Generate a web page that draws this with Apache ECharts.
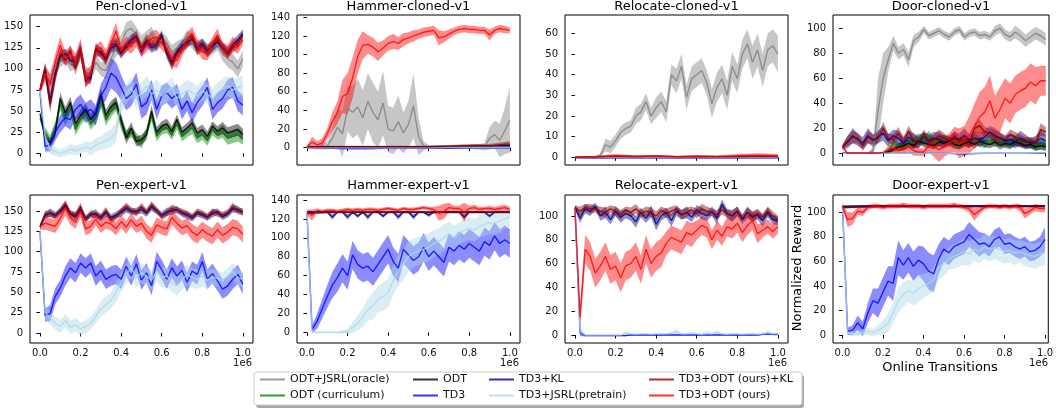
<!DOCTYPE html>
<html><head><meta charset="utf-8">
<script src="https://cdn.jsdelivr.net/npm/echarts@6.0.0/dist/echarts.min.js"></script>
<style>html,body{margin:0;padding:0;background:#fff}#c{width:1056px;height:412px}</style>
</head><body><div id="c"></div>
<script>
// ---------- tick labels / categories ----------
const xTicks = [0, 200000, 400000, 600000, 800000, 1000000];
const yTicksPen = [0, 25, 50, 75, 100, 125, 150];
const yTicksHammer = [0, 20, 40, 60, 80, 100, 120, 140];
const yTicksRelCloned = [0, 10, 20, 30, 40, 50, 60];
const yTicks100 = [0, 20, 40, 60, 80, 100];
const titles = ['Pen-cloned-v1','Hammer-cloned-v1','Relocate-cloned-v1','Door-cloned-v1','Pen-expert-v1','Hammer-expert-v1','Relocate-expert-v1','Door-expert-v1'];
const seriesKeys = ['oracle','curric','odt','td3','td3kl','jsrl','oursKl','ours'];
const seriesNames = ['ODT+JSRL(oracle)','ODT (curriculum)','ODT','TD3','TD3+KL','TD3+JSRL(pretrain)','TD3+ODT (ours)+KL','TD3+ODT (ours)'];

// ---------- Pen-cloned ----------
const penCl_oracle = [75,95,85,100,110,115,105,108,118,95,92,108,100,98,112,125,130,145,148,140,130,135,142,128,135,130,120,125,128,138,132,125,128,122,125,130,120,112,108,100,112];
const penCl_oracleSd = [5,8,8,8,8,8,8,8,8,8,8,8,8,10,10,10,10,10,10,10,10,10,8,8,8,8,8,8,8,8,8,8,8,8,8,8,10,10,10,10,10];
const penCl_curric = [42,25,15,30,58,40,55,28,40,48,35,42,62,40,50,58,35,22,25,18,12,25,45,20,28,30,22,35,20,25,30,18,22,15,28,22,26,18,20,22,18];
const penCl_curricSd = [4,6,6,7,8,7,7,7,7,7,7,7,8,7,7,8,7,6,6,6,6,6,7,6,6,6,6,7,6,6,7,6,6,6,7,6,8,8,8,8,8];
const penCl_odt = [47,20,12,24,65,48,60,35,45,52,40,48,70,45,55,60,40,18,30,14,16,22,50,25,32,35,26,40,25,30,36,24,28,20,32,26,30,24,26,28,22];
const penCl_odtSd = [3,5,5,6,7,7,7,7,7,7,7,7,7,7,7,7,7,7,7,6,6,6,7,6,6,6,6,6,6,6,6,6,6,6,6,6,7,7,7,7,7];
const penCl_td3 = [72,8,10,25,35,42,40,52,58,48,52,45,68,78,95,90,78,65,70,82,55,60,75,52,68,72,65,70,52,62,48,60,68,78,52,60,65,75,78,62,57];
const penCl_td3Sd = [5,6,8,10,10,10,12,12,12,12,12,12,14,15,18,18,15,14,14,14,14,14,12,12,12,12,12,12,12,12,12,12,12,12,12,12,12,12,12,12,12];
const penCl_td3kl = [75,98,62,95,115,118,110,108,125,90,88,122,120,112,125,128,118,128,135,138,120,132,125,128,140,118,108,120,128,132,135,125,130,122,126,132,124,120,128,134,142];
const penCl_td3klSd = [4,8,10,8,7,6,6,7,7,7,6,6,6,6,6,7,6,6,6,6,6,6,6,6,6,6,7,6,6,6,6,6,6,6,6,6,6,6,6,6,5];
const penCl_jsrl = [75,20,5,2,0,2,5,3,5,8,5,10,12,15,18,25,60,70,78,65,72,80,70,75,68,72,78,65,70,75,72,68,74,70,65,72,76,80,75,78,80];
const penCl_jsrlSd = [5,8,6,5,5,5,6,6,6,6,8,8,8,10,10,12,12,12,12,12,12,12,12,12,12,12,12,12,12,12,12,12,12,12,12,12,12,12,12,12,12];
const penCl_oursKl = [75,100,58,90,118,110,122,100,120,85,92,125,118,110,128,130,120,125,132,140,125,135,128,130,138,120,105,118,125,130,138,122,128,120,128,135,126,118,125,130,140];
const penCl_oursKlSd = [4,8,10,8,7,6,6,7,7,7,6,6,6,6,6,7,6,6,6,6,6,6,6,6,6,6,7,6,6,6,6,6,6,6,6,6,6,6,6,6,5];
const penCl_ours = [75,95,82,108,128,112,118,108,126,88,95,120,125,115,130,145,122,130,126,134,122,128,136,138,130,125,112,110,122,135,142,128,120,118,130,140,124,120,130,126,134];
const penCl_oursSd = [5,10,12,10,10,9,9,10,10,10,9,8,8,8,9,10,8,8,8,8,8,8,9,8,8,8,9,9,8,8,8,8,9,8,8,8,8,8,8,8,6];

// ---------- Hammer-cloned ----------
const hamCl_oracle = [0,0,0,1,2,10,22,15,42,38,44,32,50,38,30,48,20,18,28,16,25,45,12,2,1,1,1,1,1,1,1,1,1,1,1,1,10,14,8,18,30];
const hamCl_oracleSd = [1,1,2,3,4,10,20,25,25,28,30,30,30,32,30,35,25,25,28,22,25,35,20,5,2,2,2,2,2,2,2,2,2,3,3,4,12,15,18,25,35];
const hamCl_curric = [1,1,1,1,1,1,1,1,1,1,1];
const hamCl_curricSd = [0.5,0.8,0.8,0.8,0.8,0.8,0.8,0.8,0.8,0.8,0.8];
const hamCl_odt = [1,1,1,1,1,1,1,1,1.5,1.5,2];
const hamCl_odtSd = [0.5,0.8,0.8,0.8,0.8,0.8,0.8,0.8,1,1,1.5];
const hamCl_td3 = [0,-0.5,-1,-1,-0.5,-0.5,-0.5,-0.5,0,0,0];
const hamCl_td3Sd = [0.5,0.8,1,1,0.8,0.8,0.8,0.8,0.5,0.5,0.5];
const hamCl_td3kl = [0.5,1,1,1,1,1,1,1,1,1,1.5];
const hamCl_td3klSd = [0.5,0.8,0.8,0.8,0.8,0.8,0.8,0.8,0.8,1,1];
const hamCl_jsrl = [0,0,0,0,0,0,0,0.5,0.5,0.5,0.5];
const hamCl_jsrlSd = [0.5,0.5,0.5,0.5,0.5,0.5,0.5,1,1,1,1];
const hamCl_oursKl = [1,1,1,1,1,1,1,1.5,2,2,4];
const hamCl_oursKlSd = [0.5,1,1,1,1,1,1,1.5,2,2,3];
const hamCl_ours = [1,6,3,5,15,28,38,55,58,75,98,110,111,108,103,107,112,114,112,116,118,120,122,124,125,126,118,119,122,125,127,128,127,127,126,126,121,126,128,127,126];
const hamCl_oursSd = [1,6,4,5,6,10,12,18,22,22,18,15,10,10,10,8,8,8,7,7,6,6,5,5,5,5,8,6,5,4,4,4,4,4,4,4,6,4,4,4,3];

// ---------- Relocate-cloned ----------
const relCl_oracle = [0,0,0,0,0,1,6,5,8,12,14,15,20,22,27,20,24,27,22,40,37,44,29,38,40,42,36,26,34,38,30,44,38,50,55,46,52,42,52,54,50];
const relCl_oracleSd = [0.5,0.5,0.5,0.5,0.5,1,3,3,3,3,3,3,4,4,4,4,5,5,5,5,6,6,6,6,6,6,6,7,7,7,7,7,7,7,7,8,8,8,8,8,9];
const relCl_curric = [0,0,0,0,0,0,0,0,0,0,0];
const relCl_curricSd = [0.1,0.1,0.1,0.1,0.1,0.1,0.1,0.1,0.1,0.1,0.1];
const relCl_odt = [0,0,0,0,0,0,0,0,0,0,0];
const relCl_odtSd = [0.1,0.1,0.1,0.1,0.1,0.1,0.1,0.1,0.1,0.1,0.1];
const relCl_td3 = [-0.2,-0.3,-0.3,-0.3,-0.3,-0.3,-0.3,-0.3,-0.3,-0.3,-0.3];
const relCl_td3Sd = [0.1,0.1,0.1,0.1,0.1,0.1,0.1,0.1,0.1,0.1,0.1];
const relCl_td3kl = [0,0.1,0.2,0.1,0.3,0.1,0.2,0.2,0.1,0.2,0.1];
const relCl_td3klSd = [0.1,0.2,0.2,0.2,0.3,0.2,0.2,0.2,0.2,0.2,0.2];
const relCl_jsrl = [-0.1,-0.1,-0.1,-0.1,-0.1,-0.1,-0.1,-0.1,-0.1,-0.1,-0.1];
const relCl_jsrlSd = [0.1,0.1,0.1,0.1,0.1,0.1,0.1,0.1,0.1,0.1,0.1];
const relCl_oursKl = [0,0.2,0.5,0.3,0.5,0.3,0.4,0.3,0.3,0.5,0.4];
const relCl_oursKlSd = [0.2,0.3,0.5,0.3,0.5,0.3,0.4,0.3,0.3,0.5,0.4];
const relCl_ours = [0,0.3,0.8,0.5,0.6,0.3,0.5,0.4,0.8,1,0.8];
const relCl_oursSd = [0.3,0.5,0.8,0.5,0.6,0.5,0.5,0.5,0.8,1,0.8];

// ---------- Door-cloned ----------
const doorCl_oracle = [0,0,0,0,0,0,2,35,60,75,88,80,83,75,90,93,99,94,96,98,95,93,97,99,93,96,97,94,95,93,98,100,95,93,97,94,90,93,96,94,91];
const doorCl_oracleSd = [0,0,0,0,0,0.5,3,25,20,10,6,5,5,6,5,4,3,3,3,3,3,3,3,3,3,3,3,3,3,3,4,4,4,4,5,5,5,5,5,5,5];
const doorCl_curric = [0,0,0,0,0,0,0,0,0,2,8,6,5,9,8,12,10,14,8,10,11,9,8,7,10,8,12,9,8,11,9,10,8,7,10,9,8,8,6,7,6];
const doorCl_curricSd = [0.3,0.3,0.3,0.3,0.3,0.3,0.3,0.3,0.5,1,3,3,3,4,4,4,4,4,4,4,4,4,4,4,4,4,4,4,4,4,4,4,4,4,4,4,4,4,4,4,4];
const doorCl_odt = [0,0,0,0,0,0,0,0,0,1,3,5,6,8,6,10,8,7,6,9,8,10,7,6,8,9,7,10,8,7,9,6,8,7,9,8,6,7,5,6,5];
const doorCl_odtSd = [0.3,0.3,0.3,0.3,0.3,0.3,0.3,0.3,0.5,1,2,3,3,3,3,3,3,3,3,3,3,3,3,3,3,3,3,3,3,3,3,3,3,3,3,3,3,3,3,3,3];
const doorCl_td3 = [0,0,0,0,0,0,-0.5,0,0,0,0];
const doorCl_td3Sd = [0.3,0.3,0.3,0.3,0.3,0.3,0.5,0.3,0.3,0.3,0.5];
const doorCl_td3kl = [5,9,14,11,8,14,10,13,16,10,14,12,8,13,10,9,13,10,12,11,9,10,12,11,14,10,12,11,13,17,14,12,10,11,9,12,10,8,9,12,10];
const doorCl_td3klSd = [2,5,6,5,5,6,5,5,6,5,5,6,5,5,6,5,4,5,5,6,5,4,5,5,6,5,5,6,5,5,6,5,4,5,5,6,5,4,5,6,5];
const doorCl_jsrl = [0,0,0,0,0,0,0,0,0,0,0.3];
const doorCl_jsrlSd = [0.3,0.3,0.3,0.3,0.3,0.3,0.3,0.3,0.3,0.3,0.3];
const doorCl_oursKl = [5,10,13,12,6,13,11,12,20,12,11,16,9,18,10,8,16,9,11,14,12,9,14,9,11,8,20,22,17,16,13,12,11,15,13,10,9,10,8,19,17];
const doorCl_oursKlSd = [2,4,5,4,4,5,4,4,5,4,4,5,4,4,5,4,3,4,4,5,4,3,4,4,5,4,4,5,4,4,5,4,3,4,4,5,4,3,4,5,4];
const doorCl_ours = [5,0,0,0,0,0,0,0,0.5,3,4,2,3,5,2,1,1,6,5,3,5,8,11,8,10,15,22,29,33,42,28,35,44,40,47,50,52,57,54,58,58];
const doorCl_oursSd = [2,0.5,0.5,0.5,0.5,0.5,0.5,0.5,1,3,3,3,3,4,4,3,3,5,8,10,8,8,10,12,12,15,18,20,20,20,18,18,16,16,15,15,15,15,15,12,12];

// ---------- Pen-expert ----------
const penEx_td3 = [125,22,24,45,55,70,80,74,86,80,86,70,77,66,70,72,66,82,70,85,65,74,58,88,78,66,80,70,77,62,76,72,88,66,73,64,54,58,66,72,60];
const penEx_td3Sd = [5,8,10,10,10,12,12,12,12,12,12,12,12,12,12,12,12,12,12,12,12,12,12,12,12,12,12,12,12,12,12,12,12,12,12,12,12,12,12,12,12];
const penEx_td3kl = [130,144,148,145,149,157,146,143,152,141,145,147,141,148,142,145,148,153,149,150,152,147,155,150,145,149,150,152,147,145,141,147,145,142,147,149,143,146,153,152,148];
const penEx_td3klSd = [2,4,5,4,4,5,4,5,5,4,4,5,4,5,4,4,5,5,4,4,5,4,5,4,4,5,5,4,4,5,4,4,4,4,5,4,4,4,5,4,4];
const penEx_jsrl = [125,25,18,12,8,15,7,10,5,8,12,20,30,35,40,50,62,72,80,68,74,70,65,76,68,70,62,58,65,72,68,66,70,65,69,67,64,70,76,68,66];
const penEx_jsrlSd = [5,8,8,8,8,8,8,8,8,8,8,8,10,10,10,12,12,12,12,12,12,12,12,12,12,12,12,12,12,12,12,12,12,12,10,10,10,10,10,10,10];
const penEx_oursKl = [131,146,147,143,151,158,147,145,155,139,147,145,143,150,139,143,150,155,151,147,155,149,157,151,143,147,153,151,149,146,143,149,147,143,149,147,145,148,155,150,149];
const penEx_oursKlSd = [2,4,4,4,4,5,4,4,5,4,4,4,4,5,4,4,4,5,4,4,5,4,5,4,4,4,5,4,4,4,4,4,4,4,4,4,4,4,5,4,4];
const penEx_ours = [131,135,133,131,141,153,141,136,150,128,131,140,131,136,134,128,137,130,139,131,135,125,120,133,130,128,142,135,129,132,124,120,127,122,119,127,120,124,130,128,121];
const penEx_oursSd = [4,8,8,8,8,9,8,8,8,8,8,8,8,8,8,8,8,8,8,8,9,9,9,9,9,9,9,9,9,9,10,10,10,10,10,10,10,10,10,10,10];

// ---------- Hammer-expert ----------
const hamEx_odt = [127,127,127,127,127,127,127,127,127,127,127];
const hamEx_odtSd = [0.5,0.5,0.5,0.5,0.5,0.5,0.5,0.5,0.5,0.5,0.5];
const hamEx_td3 = [127,3,12,25,38,50,58,68,60,82,72,68,70,64,72,80,88,75,68,88,82,76,80,90,80,86,80,74,90,86,92,88,94,90,86,96,92,102,94,98,94];
const hamEx_td3Sd = [3,4,8,10,12,14,15,15,15,15,15,15,15,15,15,15,15,15,15,15,15,15,15,15,15,15,15,15,15,15,15,15,15,15,15,15,15,15,15,15,15];
const hamEx_td3kl = [127,127,127,127,127,122,127,127,122,127,123,127,122,127,127,123,127,127,122,127,127,122,127,127,124,127,127,127,127,127,127,122,127,127,127,127,123,127,127,127,127];
const hamEx_td3klSd = [1,1,1,1,1,3,1,1,3,1,2,1,3,1,1,2,1,1,3,1,1,3,1,1,2,1,1,1,1,1,1,3,1,1,1,1,2,1,1,1,1];
const hamEx_jsrl = [127,0,0,0,0,0,0,0.5,1,5,10,16,24,28,35,38,42,55,65,72,80,84,86,88,90,94,96,100,104,100,104,108,110,108,112,114,116,115,118,120,122];
const hamEx_jsrlSd = [3,1,1,1,1,1,1,2,3,6,8,10,12,14,14,15,15,16,16,16,16,15,15,15,15,14,14,14,13,13,12,12,12,12,12,12,12,12,12,10,10];
const hamEx_oursKl = [126,127,127,127,127,127,127,127,127,127,127];
const hamEx_oursKlSd = [1,1,1,1,1,1,1,1,1,1,1];
const hamEx_ours = [127,124,129,128,129,129,128,129,130,129,130,129,130,130,129,130,131,130,129,131,130,130,131,132,131,130,126,128,132,131,131,127,131,132,130,131,131,130,131,132,130];
const hamEx_oursSd = [3,6,2,2,2,2,2,2,2,2,2,2,2,2,2,2,2,2,2,2,2,2,2,2,2,3,8,8,5,3,3,10,3,3,3,2,3,3,3,3,3];

// ---------- Relocate-expert ----------
const relEx_td3 = [107,2,-0.5,-0.5,-0.5,-0.5,-0.5,-0.5,-0.5,-0.5,-0.5,0,0,0,0,0,0,0,0,0,0,0,0,0,0,0,0,0,0,0,0,0,0,0,0,0,0,0.5,1,0.5,0.5];
const relEx_td3Sd = [2,3,0.5,0.5,0.5,0.5,0.5,0.5,0.5,0.5,0.5,0.5,0.5,0.5,0.5,0.5,0.5,0.5,0.5,0.5,0.5,0.5,0.5,0.5,0.5,0.5,0.5,0.5,0.5,0.5,0.5,0.5,0.5,0.5,0.5,0.5,0.5,0.5,1,0.5,0.5];
const relEx_td3kl = [107,98,106,104,108,100,103,97,104,99,102,100,95,103,98,104,93,100,103,96,104,101,103,99,105,102,100,104,98,110,102,100,104,97,103,99,101,96,103,97,96];
const relEx_td3klSd = [2,4,4,4,3,4,5,4,4,5,4,4,5,4,4,5,5,4,4,5,4,4,5,4,4,5,4,4,5,4,4,5,4,4,5,4,4,5,4,4,4];
const relEx_jsrl = [107,3,0,0,0,0,0,0,0,0,1.5,1,0.5,1,1,0.5,1,1,1,1.5,2.5,1,1,1.5,1,0.5,1.5,1,2,1,0.5,1,1,0.5,1,1,0.5,1,2,1,1];
const relEx_jsrlSd = [2,3,0.5,0.5,0.5,0.5,0.5,0.5,0.5,0.5,1.5,1,1,1,1,1,1,1,1,1.5,2.5,1,1,1.5,1,1,1.5,1,2,1,1,1,1,1,1,1,1,1,2,1,1];
const relEx_oursKl = [107,104,107,106,106,104,103,106,104,101,105,103,106,102,104,103,100,105,102,104,106,101,103,105,102,106,104,103,101,105,102,100,104,98,103,100,102,99,104,100,97];
const relEx_oursKlSd = [2,4,3,4,3,4,4,3,4,4,3,4,4,3,4,4,4,3,4,4,3,4,4,3,4,4,4,3,4,4,3,4,4,3,4,4,4,3,4,4,3];
const relEx_ours = [107,15,72,66,52,58,66,55,58,48,58,60,66,55,72,60,66,69,77,82,80,78,86,84,88,92,90,80,88,83,91,89,94,86,92,96,85,88,91,87,91];
const relEx_oursSd = [3,10,12,12,12,12,12,12,12,12,12,12,12,12,12,12,12,12,10,10,10,10,10,10,8,8,8,8,8,8,8,8,8,8,8,8,8,6,6,6,6];

// ---------- Door-expert ----------
const doorEx_odt = [105,105,105,105,105,105,105,105,105,105,105];
const doorEx_odtSd = [0.5,0.5,0.5,0.5,0.5,0.5,0.5,0.5,0.5,0.5,0.5];
const doorEx_td3 = [105,3,4,10,5,18,28,26,35,44,42,63,57,63,56,61,58,52,50,62,70,67,72,74,76,82,78,74,75,72,78,80,74,75,72,70,72,68,69,72,78];
const doorEx_td3Sd = [3,3,4,6,6,8,10,12,12,12,14,14,12,12,12,12,14,15,15,12,10,10,10,10,10,10,10,10,8,8,8,8,8,8,8,8,8,8,8,8,10];
const doorEx_td3kl = [104,104.5,105,105,105,105,105,105,105,105,105];
const doorEx_td3klSd = [1,1,1,1,1,1,1,1,1,1,1];
const doorEx_jsrl = [105,2,1,1,2,3,2,4,6,10,18,28,33,36,34,38,40,42,45,55,58,62,64,66,68,66,70,68,72,70,71,70,68,69,67,68,66,65,64,66,67];
const doorEx_jsrlSd = [3,2,2,2,2,3,3,4,6,8,8,10,10,9,10,11,10,9,10,10,10,9,10,10,11,10,9,10,10,10,9,10,10,10,10,9,10,10,10,10,10];
const doorEx_oursKl = [104,105,105,105,105,105,105,105,105,105,105];
const doorEx_oursKlSd = [1,1,1,1,1,1,1,1,1,1,1];
const doorEx_ours = [105,94,95,101,100,104,105,105,104,105,105,105,106,105,105,105,104,105,105,105,105,105,106,105,104,103,98,101,104,105,105,104,105,104,105,104,99,101,104,103,103];
const doorEx_oursSd = [2,6,5,3,3,2,2,2,2,2,2,2,2,2,2,2,2,2,2,2,2,2,2,2,2,3,5,3,2,2,2,2,2,2,2,3,4,3,3,3,3];

// ---------- panels built from the arrays ----------
const panels = [
  {yTicks: yTicksPen, yMin: -13.85, yMax: 163.85, s: {oracle:[penCl_oracle,penCl_oracleSd], curric:[penCl_curric,penCl_curricSd], odt:[penCl_odt,penCl_odtSd], td3:[penCl_td3,penCl_td3Sd], td3kl:[penCl_td3kl,penCl_td3klSd], jsrl:[penCl_jsrl,penCl_jsrlSd], oursKl:[penCl_oursKl,penCl_oursKlSd], ours:[penCl_ours,penCl_oursSd]}},
  {yTicks: yTicksHammer, yMin: -18.6, yMax: 142.5, s: {oracle:[hamCl_oracle,hamCl_oracleSd], curric:[hamCl_curric,hamCl_curricSd], odt:[hamCl_odt,hamCl_odtSd], td3:[hamCl_td3,hamCl_td3Sd], td3kl:[hamCl_td3kl,hamCl_td3klSd], jsrl:[hamCl_jsrl,hamCl_jsrlSd], oursKl:[hamCl_oursKl,hamCl_oursKlSd], ours:[hamCl_ours,hamCl_oursSd]}},
  {yTicks: yTicksRelCloned, yMin: -3.7, yMax: 68.9, s: {oracle:[relCl_oracle,relCl_oracleSd], curric:[relCl_curric,relCl_curricSd], odt:[relCl_odt,relCl_odtSd], td3:[relCl_td3,relCl_td3Sd], td3kl:[relCl_td3kl,relCl_td3klSd], jsrl:[relCl_jsrl,relCl_jsrlSd], oursKl:[relCl_oursKl,relCl_oursKlSd], ours:[relCl_ours,relCl_oursSd]}},
  {yTicks: yTicks100, yMin: -9.4, yMax: 110.6, s: {oracle:[doorCl_oracle,doorCl_oracleSd], curric:[doorCl_curric,doorCl_curricSd], odt:[doorCl_odt,doorCl_odtSd], td3:[doorCl_td3,doorCl_td3Sd], td3kl:[doorCl_td3kl,doorCl_td3klSd], jsrl:[doorCl_jsrl,doorCl_jsrlSd], oursKl:[doorCl_oursKl,doorCl_oursKlSd], ours:[doorCl_ours,doorCl_oursSd]}},
  {yTicks: yTicksPen, yMin: -12.3, yMax: 169.6, s: {td3:[penEx_td3,penEx_td3Sd], td3kl:[penEx_td3kl,penEx_td3klSd], jsrl:[penEx_jsrl,penEx_jsrlSd], oursKl:[penEx_oursKl,penEx_oursKlSd], ours:[penEx_ours,penEx_oursSd]}},
  {yTicks: yTicksHammer, yMin: -11.2, yMax: 145.3, s: {odt:[hamEx_odt,hamEx_odtSd], td3:[hamEx_td3,hamEx_td3Sd], td3kl:[hamEx_td3kl,hamEx_td3klSd], jsrl:[hamEx_jsrl,hamEx_jsrlSd], oursKl:[hamEx_oursKl,hamEx_oursKlSd], ours:[hamEx_ours,hamEx_oursSd]}},
  {yTicks: yTicks100, yMin: -6.7, yMax: 117.6, s: {td3:[relEx_td3,relEx_td3Sd], td3kl:[relEx_td3kl,relEx_td3klSd], jsrl:[relEx_jsrl,relEx_jsrlSd], oursKl:[relEx_oursKl,relEx_oursKlSd], ours:[relEx_ours,relEx_oursSd]}},
  {yTicks: yTicks100, yMin: -6.5, yMax: 114.1, s: {odt:[doorEx_odt,doorEx_odtSd], td3:[doorEx_td3,doorEx_td3Sd], td3kl:[doorEx_td3kl,doorEx_td3klSd], jsrl:[doorEx_jsrl,doorEx_jsrlSd], oursKl:[doorEx_oursKl,doorEx_oursKlSd], ours:[doorEx_ours,doorEx_oursSd]}}
];

// ---------- styling / layout ----------
const FONT = 'DejaVu Sans';
const RGB = {oracle:[128,128,128], curric:[0,128,0], odt:[0,0,0], td3:[0,0,255], td3kl:[0,0,139], jsrl:[173,216,230], oursKl:[139,0,0], ours:[255,0,0]};
const COLS = [
  {left:30, width:223, xMin:-49200, xMax:1050000},
  {left:297, width:223, xMin:-49200, xMax:1050000},
  {left:565, width:223, xMin:-49200, xMax:1050000},
  {left:833, width:216, xMin:-47000, xMax:1016000}
];
const ROWS = [{top:15, height:150}, {top:195, height:148}];

const grid = [], xAxis = [], yAxis = [], series = [], graphic = [];
panels.forEach((p, k) => {
  const col = COLS[k % 4], row = ROWS[Math.floor(k / 4)];
  const bottomRow = k >= 4;
  grid.push({left: col.left, top: row.top, width: col.width, height: row.height, show: true, borderColor: '#000', borderWidth: 1, backgroundColor: 'transparent'});
  xAxis.push({type:'value', gridIndex:k, min:col.xMin, max:col.xMax,
    axisLine:{show:false}, splitLine:{show:false},
    axisTick:{show:true, inside:false, length:3.5, lineStyle:{color:'#000', width:1}, customValues:xTicks},
    axisLabel:{show:bottomRow, customValues:xTicks, formatter:v => (v/1e6).toFixed(1), fontSize:10, color:'#111', fontFamily:FONT, margin:5}
  });
  yAxis.push({type:'value', gridIndex:k, min:p.yMin, max:p.yMax,
    axisLine:{show:false}, splitLine:{show:false},
    axisTick:{show:true, inside:false, length:3.5, lineStyle:{color:'#000', width:1}, customValues:p.yTicks},
    axisLabel:{show:true, customValues:p.yTicks, formatter:v => String(v), fontSize:10, color:'#111', fontFamily:FONT, margin:7}
  });
  seriesKeys.forEach((key, j) => {
    const d = p.s[key]; if (!d) return;
    const mean = d[0], sd = d[1], n = mean.length;
    const xs = mean.map((_, i) => i * 1000000 / (n - 1));
    const c = RGB[key];
    const lo = mean.map((m, i) => m - sd[i]);
    const hi = mean.map((m, i) => m + sd[i]);
    series.push({type:'custom', xAxisIndex:k, yAxisIndex:k, data:[[0,0]], clip:true, silent:true, z:2,
      renderItem: (params, api) => {
        if (params.dataIndex !== 0) return null;
        const pts = [];
        for (let i = 0; i < n; i++) pts.push(api.coord([xs[i], hi[i]]));
        for (let i = n - 1; i >= 0; i--) pts.push(api.coord([xs[i], lo[i]]));
        return {type:'polygon', shape:{points:pts}, style:{fill:`rgba(${c[0]},${c[1]},${c[2]},0.45)`}};
      }});
    const lc = `rgba(${c[0]},${c[1]},${c[2]},0.8)`;
    series.push({type:'line', name:seriesNames[j], xAxisIndex:k, yAxisIndex:k, z:2,
      data: xs.map((x, i) => [x, mean[i]]), showSymbol:false, symbol:'none', clip:true, silent:true,
      color: lc, itemStyle:{color: lc}, lineStyle:{color: lc, width:1.4}});
  });
  // title
  graphic.push({type:'text', x: col.left + col.width/2, y: bottomRow ? 186 : 7, silent:true,
    style:{text: titles[k], fill:'#000', fontSize:13, fontFamily:FONT, align:'center', verticalAlign:'middle'}});
  if (bottomRow) {
    graphic.push({type:'text', x: col.left + col.width - 1, y: 363, silent:true,
      style:{text:'1e6', fill:'#111', fontSize:10, fontFamily:FONT, align:'right', verticalAlign:'middle'}});
  }
});

graphic.push({type:'text', x: 798, y: 268, rotation: Math.PI/2, silent:true,
  style:{text:'Normalized Reward', fill:'#000', fontSize:13, fontFamily:FONT, align:'center', verticalAlign:'middle'}});
graphic.push({type:'text', x: 940, y: 368, silent:true,
  style:{text:'Online Transitions', fill:'#000', fontSize:13, fontFamily:FONT, align:'center', verticalAlign:'middle'}});
// legend frame with shadow
graphic.push({type:'rect', z:0, silent:true, shape:{x:256, y:375, width:548, height:33, r:3}, style:{fill:'rgba(0,0,0,0.35)'}});
graphic.push({type:'rect', z:1, silent:true, shape:{x:254, y:372, width:548, height:33, r:3}, style:{fill:'#fff', stroke:'#cccccc', lineWidth:1}});

// legends: column-major, 4 columns x 2 rows
const legendLeft = [260, 413, 489, 649];
const legendTop = [374, 390];
const legend = seriesNames.map((nm, j) => ({
  data:[nm], left: legendLeft[Math.floor(j/2)], top: legendTop[j%2], padding:0, itemGap:0,
  itemWidth:25, itemHeight:2, icon:'rect', selectedMode:false, z:5,
  textStyle:{fontSize:11, color:'#111', fontFamily:FONT}
}));

const chart = echarts.init(document.getElementById('c'), null, {renderer:'canvas'});
chart.setOption({animation:false, backgroundColor:'#fff', grid, xAxis, yAxis, series, graphic, legend});
</script></body></html>
